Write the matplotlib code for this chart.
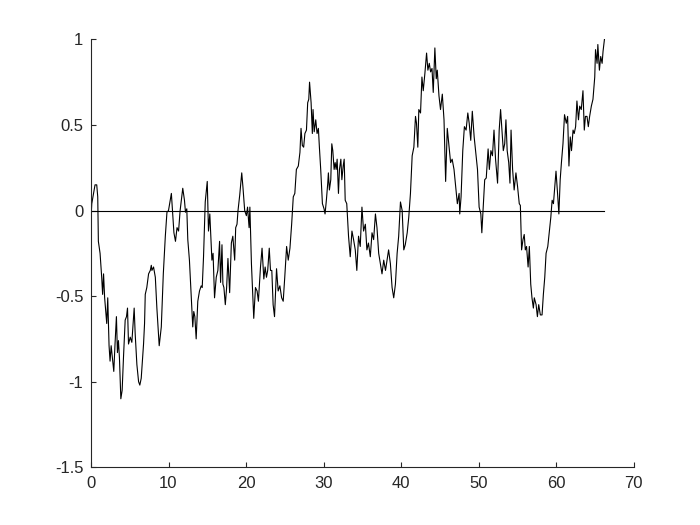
import matplotlib
matplotlib.use("Agg")
import matplotlib.pyplot as plt

# valores (tiempo, valor del paseo)
t = [0, 0.1, 0.52, 0.74, 0.87, 0.95, 1.17, 1.38, 1.5, 1.62, 1.76, 2.03, 2.16, 2.33, 2.46, 2.6,
     2.76, 2.94, 3.1, 3.28, 3.41, 3.54, 3.67, 3.85, 4.02, 4.19, 4.41, 4.58, 4.71, 4.84, 5.06,
     5.27, 5.57, 5.7, 5.92, 6.14, 6.3, 6.48, 6.78, 6.91, 7.0, 7.2, 7.43, 7.65, 7.78, 7.86, 8.07,
     8.3, 8.5, 8.8, 9.07, 9.33, 9.59, 9.8, 10.0, 10.37, 10.6, 10.7, 10.9, 11.1, 11.3, 11.5,
     11.84, 12.06, 12.19, 12.36, 12.49, 12.7, 12.92, 13.13, 13.26, 13.4, 13.57, 13.78, 14.0,
     14.22, 14.35, 14.52, 14.74, 15.0, 15.16, 15.33, 15.6, 15.75, 15.94, 16.16, 16.37, 16.59,
     16.72, 16.9, 17.02, 17.15, 17.33, 17.5, 17.67, 17.89, 18.11, 18.3, 18.54, 18.67, 18.84,
     18.97, 19.19, 19.45, 19.6, 19.83, 20.05, 20.2, 20.4, 20.5, 20.7, 21.0, 21.22, 21.43, 21.6,
     21.87, 22.07, 22.3, 22.47, 22.64, 22.8, 23.0, 23.16, 23.33, 23.5, 23.68, 23.94, 24.15,
     24.37, 24.6, 24.8, 25.0, 25.24, 25.45, 25.67,
     25.89, 26.1, 26.3, 26.5, 26.75, 26.96, 27.1, 27.27, 27.44, 27.6, 27.8, 27.96, 28.1, 28.2,
     28.4, 28.56, 28.65, 28.8, 29.0, 29.17, 29.34, 29.47, 29.64, 29.86, 30.07, 30.2, 30.37,
     30.55, 30.63, 30.76, 30.94, 31.07, 31.2, 31.37, 31.5, 31.63, 31.76, 31.93, 32.06, 32.24,
     32.37, 32.54, 32.67, 32.8, 33.0, 33.23, 33.45, 33.67, 33.88, 34.1, 34.3, 34.52, 34.74,
     34.96, 35.17, 35.4, 35.6, 35.8, 36.04, 36.26, 36.47, 36.7, 36.9, 37.12, 37.34, 37.55,
     37.77, 38.0, 38.2, 38.4, 38.63, 38.85, 39.06, 39.28,
     39.5, 39.7, 39.93, 40.15, 40.36, 40.55, 40.8, 41.0, 41.22, 41.44, 41.66, 41.87, 42.0,
     42.17, 42.3, 42.52, 42.7, 42.87, 43.08, 43.3, 43.47, 43.65, 43.82, 44.0, 44.16, 44.37,
     44.55, 44.68, 44.9, 45.1, 45.33, 45.55, 45.76, 45.97, 46.2, 46.4, 46.6, 46.84, 47.06,
     47.27, 47.5, 47.58, 47.75, 47.97, 48.18, 48.4, 48.62, 48.8, 49.0, 49.2, 49.44, 49.65,
     49.87, 50.08, 50.3, 50.43, 50.6, 50.8, 51.0, 51.24, 51.4, 51.6, 51.8, 52.0, 52.2, 52.46,
     52.67, 52.85,
     53.0, 53.2, 53.38, 53.54, 53.7, 53.9, 54.06, 54.2, 54.4, 54.6, 54.83, 55.04, 55.26, 55.4,
     55.56, 55.74, 55.9, 56.04, 56.2, 56.4, 56.56, 56.74, 56.9, 57.08, 57.2, 57.43, 57.6,
     57.77, 57.98, 58.2, 58.37, 58.55, 58.72, 58.94, 59.15, 59.33, 59.5, 59.67, 59.85, 60.0,
     60.2, 60.37, 60.54, 60.7, 60.9, 61.1, 61.33, 61.5, 61.67, 61.84, 62.0, 62.2, 62.35,
     62.53, 62.7, 62.9, 63.06, 63.26, 63.48, 63.65, 63.8, 64.0, 64.17, 64.34, 64.56, 64.77,
     65.0, 65.1, 65.3, 65.4, 65.6, 65.77, 65.95, 66.07, 66.25]

w = [-0.045, 0.04, 0.15, 0.15, 0.08, -0.18, -0.25, -0.39, -0.49, -0.37, -0.51, -0.66, -0.51,
     -0.79, -0.88, -0.79, -0.86, -0.94, -0.78, -0.62, -0.83, -0.76, -0.86, -1.10, -1.05, -0.86,
     -0.64, -0.62, -0.57, -0.78, -0.74, -0.77, -0.57, -0.72, -0.90, -1.0, -1.02, -0.98, -0.78,
     -0.66, -0.49, -0.45, -0.37, -0.35, -0.32, -0.35, -0.33, -0.39, -0.57, -0.79, -0.68, -0.37,
     -0.15, -0.01, 0.0, 0.10, -0.06, -0.13, -0.18, -0.10, -0.12, 0.0,
     0.13, 0.06, -0.01, 0.01, -0.17, -0.29, -0.49, -0.68, -0.59, -0.62, -0.75, -0.53, -0.47,
     -0.44, -0.45, -0.27, 0.05, 0.17, -0.12, -0.02, -0.29, -0.25, -0.51, -0.39, -0.35, -0.18,
     -0.42, -0.20, -0.43, -0.45, -0.55, -0.45, -0.28, -0.48, -0.19, -0.15, -0.29, -0.10, -0.08,
     0.0, 0.09, 0.22, 0.14, 0.0, -0.03, 0.02, -0.10, 0.02, -0.31, -0.63, -0.45, -0.47, -0.53,
     -0.33, -0.22, -0.40, -0.33, -0.39, -0.35, -0.22, -0.35, -0.35, -0.55, -0.62, -0.34, -0.47,
     -0.44, -0.51, -0.53, -0.39, -0.21, -0.29, -0.22,
     -0.08, 0.08, 0.10, 0.24, 0.26, 0.34, 0.48, 0.38, 0.37, 0.45, 0.47, 0.63, 0.65, 0.75,
     0.63, 0.45, 0.59, 0.46, 0.53, 0.45, 0.48, 0.37, 0.24, 0.04, 0.01, -0.02, 0.06,
     0.16, 0.22, 0.12, 0.18, 0.39, 0.35, 0.24, 0.28, 0.24, 0.30, 0.10, 0.24, 0.30,
     0.18, 0.26, 0.30, 0.06, 0.04, -0.15, -0.27, -0.12, -0.17, -0.23, -0.35, -0.15, -0.21,
     0.02, -0.12, -0.08, -0.23, -0.19, -0.27, -0.13, -0.17, -0.02, -0.10, -0.25, -0.31, -0.37,
     -0.29, -0.35, -0.29, -0.23, -0.31, -0.45, -0.51, -0.43,
     -0.25, -0.15, 0.05, 0.0, -0.23, -0.20, -0.13, -0.04, 0.10, 0.32, 0.37, 0.55, 0.51,
     0.37, 0.59, 0.57, 0.78, 0.70, 0.80, 0.92, 0.82, 0.86, 0.81, 0.83, 0.69, 0.95,
     0.77, 0.82, 0.67, 0.59, 0.68, 0.53, 0.17, 0.48, 0.37, 0.28, 0.30, 0.24, 0.14,
     0.04, 0.10, -0.02, 0.08, 0.35, 0.49, 0.47, 0.57, 0.51, 0.41, 0.58, 0.43, 0.34,
     0.24, 0.02, -0.02, -0.13, 0.01, 0.18, 0.19, 0.36, 0.24, 0.35, 0.32, 0.47, 0.30, 0.16,
     0.47, 0.59,
     0.49, 0.35, 0.39, 0.53, 0.35, 0.28, 0.16, 0.47, 0.24, 0.12, 0.22, 0.14, 0.04, 0.03,
     -0.23, -0.17, -0.14, -0.23, -0.21, -0.33, -0.21, -0.43, -0.51, -0.57, -0.51, -0.55, -0.62,
     -0.55, -0.61, -0.61, -0.49, -0.39, -0.25, -0.21, -0.12, -0.04, 0.06, 0.04, 0.14, 0.23,
     0.10, -0.02, 0.18, 0.28, 0.39, 0.56, 0.51, 0.55, 0.26, 0.43, 0.35, 0.47, 0.45,
     0.49, 0.64, 0.53, 0.61, 0.59, 0.70, 0.47, 0.55, 0.55, 0.49, 0.55, 0.61, 0.65,
     0.78, 0.94, 0.86, 0.97, 0.82, 0.90, 0.86, 0.93, 1.0]

xticks = [0, 10, 20, 30, 40, 50, 60, 70]
yticks = [-1.5, -1, -0.5, 0, 0.5, 1]
yticklabels = ['-1.5', '-1', '-0.5', '0', '0.5', '1']

plt.rcParams['font.family'] = ['Liberation Sans', 'DejaVu Sans']
plt.rcParams['font.size'] = 12

fig = plt.figure(figsize=(7, 5.25), dpi=100)
ax = fig.add_axes([0.13, 0.11, 0.775, 0.815])

ax.plot(t, w, color='black', linewidth=0.8)
ax.plot([0, t[-1]], [0, 0], color='black', linewidth=0.8)  # linea del cero

ax.set_xlim(0, 70)
ax.set_ylim(-1.5, 1)
ax.set_xticks(xticks)
ax.set_yticks(yticks)
ax.set_yticklabels(yticklabels)

# estilo tipo matlab: sin caja, ticks hacia adentro
ax.spines['top'].set_visible(False)
ax.spines['right'].set_visible(False)
for s in ['left', 'bottom']:
    ax.spines[s].set_linewidth(0.8)
    ax.spines[s].set_color('#262626')
ax.tick_params(direction='in', length=3.5, width=0.8, colors='#262626')
ax.tick_params(axis='x', pad=6.5)
ax.tick_params(axis='y', pad=5.5)

fig.savefig('out.png', dpi=100)
